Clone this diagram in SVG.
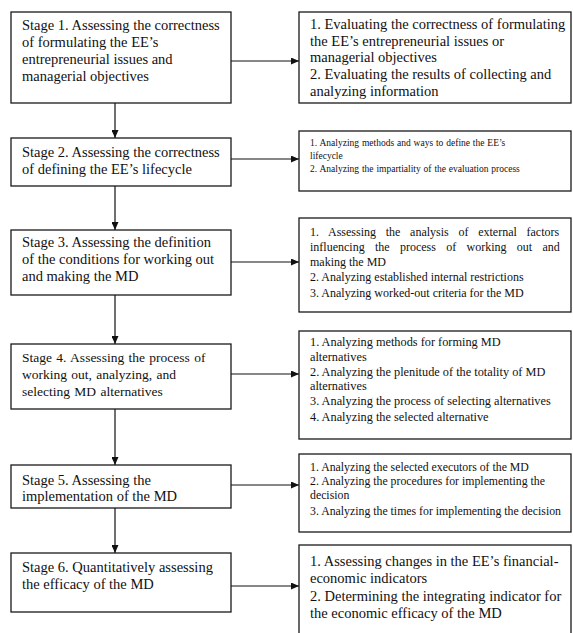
<svg xmlns="http://www.w3.org/2000/svg" width="573" height="633" viewBox="0 0 573 633">
<style>
.box{fill:#fff;stroke:#1a1a1a;stroke-width:1.3}
.st{font-family:"Liberation Serif","Times New Roman",serif;font-size:14.5px;fill:#111}
.s4{font-family:"Liberation Serif","Times New Roman",serif;font-size:13.5px;fill:#111;word-spacing:1px}
.r3{font-family:"Liberation Serif","Times New Roman",serif;font-size:12px;fill:#111}
.r4{font-family:"Liberation Serif","Times New Roman",serif;font-size:12.3px;fill:#111}
.r2{font-family:"Liberation Serif","Times New Roman",serif;font-size:9.5px;fill:#111;word-spacing:0.5px}
.r5{font-family:"Liberation Serif","Times New Roman",serif;font-size:11.8px;fill:#111}
.ln{stroke:#111;stroke-width:1.2;fill:none}
</style>
<defs>
<marker id="ah" markerUnits="userSpaceOnUse" markerWidth="8" markerHeight="7" refX="8" refY="3.5" orient="auto">
<path d="M0,0 L8,3.5 L0,7 z" fill="#111"/>
</marker>
</defs>

<g id="connectors">
<line class="ln" x1="115" y1="103" x2="115" y2="138" marker-end="url(#ah)"/>
<line class="ln" x1="115" y1="186" x2="115" y2="230" marker-end="url(#ah)"/>
<line class="ln" x1="115" y1="295" x2="115" y2="344" marker-end="url(#ah)"/>
<line class="ln" x1="115" y1="409" x2="115" y2="465" marker-end="url(#ah)"/>
<line class="ln" x1="115" y1="508" x2="115" y2="553" marker-end="url(#ah)"/>
<line class="ln" x1="231" y1="61" x2="299" y2="61" marker-end="url(#ah)"/>
<line class="ln" x1="231" y1="159" x2="299" y2="159" marker-end="url(#ah)"/>
<line class="ln" x1="231" y1="262" x2="299" y2="262" marker-end="url(#ah)"/>
<line class="ln" x1="231" y1="374" x2="299" y2="374" marker-end="url(#ah)"/>
<line class="ln" x1="231" y1="485" x2="299" y2="485" marker-end="url(#ah)"/>
<line class="ln" x1="231" y1="586" x2="299" y2="586" marker-end="url(#ah)"/>
</g>

<g id="stage1">
<rect class="box" x="11" y="12" width="220" height="91"/>
<text class="st" x="22" y="30">Stage 1. Assessing the correctness</text>
<text class="st" x="22" y="47">of formulating the EE’s</text>
<text class="st" x="22" y="64">entrepreneurial issues and</text>
<text class="st" x="22" y="81">managerial objectives</text>
</g>
<g id="detail1">
<rect class="box" x="299" y="12" width="272" height="91"/>
<text class="st" x="310" y="29">1. Evaluating the correctness of formulating</text>
<text class="st" x="310" y="46">the EE’s entrepreneurial issues or</text>
<text class="st" x="310" y="62">managerial objectives</text>
<text class="st" x="310" y="79">2. Evaluating the results of collecting and</text>
<text class="st" x="310" y="96">analyzing information</text>
</g>

<g id="stage2">
<rect class="box" x="11" y="138" width="220" height="48"/>
<text class="st" x="22" y="157">Stage 2. Assessing the correctness</text>
<text class="st" x="22" y="174">of defining the EE’s lifecycle</text>
</g>
<g id="detail2">
<rect class="box" x="299" y="131" width="272" height="60"/>
<text class="r2" x="310" y="146">1. Analyzing methods and ways to define the EE’s</text>
<text class="r2" x="310" y="159">lifecycle</text>
<text class="r2" x="310" y="172">2. Analyzing the impartiality of the evaluation process</text>
</g>

<g id="stage3">
<rect class="box" x="11" y="230" width="220" height="65"/>
<text class="st" x="22" y="247">Stage 3. Assessing the definition</text>
<text class="st" x="22" y="264">of the conditions for working out</text>
<text class="st" x="22" y="281">and making the MD</text>
</g>
<g id="detail3">
<rect class="box" x="299" y="218" width="272" height="94"/>
<text class="r3" x="310" y="236" word-spacing="6.7">1. Assessing the analysis of external factors</text>
<text class="r3" x="310" y="251" word-spacing="7.3">influencing the process of working out and</text>
<text class="r3" x="310" y="266">making the MD</text>
<text class="r3" x="310" y="281">2. Analyzing established internal restrictions</text>
<text class="r3" x="310" y="297">3. Analyzing worked-out criteria for the MD</text>
</g>

<g id="stage4">
<rect class="box" x="11" y="344" width="220" height="65"/>
<text class="s4" x="22" y="362">Stage 4. Assessing the process of</text>
<text class="s4" x="22" y="379">working out, analyzing, and</text>
<text class="s4" x="22" y="396">selecting MD alternatives</text>
</g>
<g id="detail4">
<rect class="box" x="299" y="331" width="272" height="108"/>
<text class="r4" x="310" y="346">1. Analyzing methods for forming MD</text>
<text class="r4" x="310" y="361">alternatives</text>
<text class="r4" x="310" y="376">2. Analyzing the plenitude of the totality of MD</text>
<text class="r4" x="310" y="390">alternatives</text>
<text class="r4" x="310" y="405">3. Analyzing the process of selecting alternatives</text>
<text class="r4" x="310" y="421">4. Analyzing the selected alternative</text>
</g>

<g id="stage5">
<rect class="box" x="11" y="465" width="220" height="43"/>
<text class="st" x="22" y="485">Stage 5. Assessing the</text>
<text class="st" x="22" y="501">implementation of the MD</text>
</g>
<g id="detail5">
<rect class="box" x="299" y="454" width="272" height="78"/>
<text class="r5" x="310" y="471">1. Analyzing the selected executors of the MD</text>
<text class="r5" x="310" y="485">2. Analyzing the procedures for implementing the</text>
<text class="r5" x="310" y="499">decision</text>
<text class="r5" x="310" y="515">3. Analyzing the times for implementing the decision</text>
</g>

<g id="stage6">
<rect class="box" x="11" y="553" width="220" height="59"/>
<text class="st" x="22" y="572">Stage 6. Quantitatively assessing</text>
<text class="st" x="22" y="589">the efficacy of the MD</text>
</g>
<g id="detail6">
<rect class="box" x="299" y="545" width="272" height="95"/>
<text class="st" x="310" y="566">1. Assessing changes in the EE’s financial-</text>
<text class="st" x="310" y="583">economic indicators</text>
<text class="st" x="310" y="601">2. Determining the integrating indicator for</text>
<text class="st" x="310" y="618">the economic efficacy of the MD</text>
</g>
</svg>
